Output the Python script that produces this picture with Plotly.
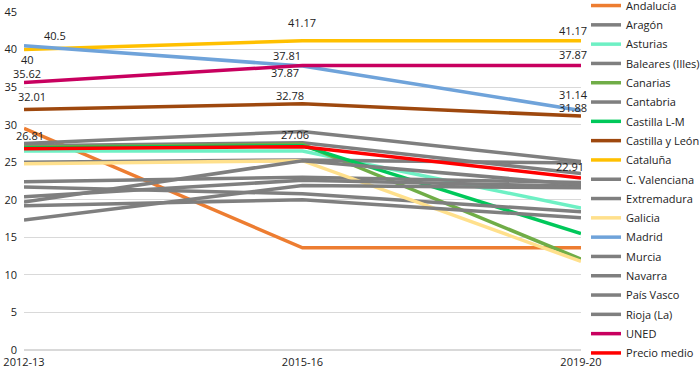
import plotly.graph_objects as go

periods = ["2012-13", "2015-16", "2019-20"]

series_names = ["Andalucía", "Aragón", "Asturias", "Baleares (Illes)", "Canarias",
                "Cantabria", "Castilla L-M", "Castilla y León", "Cataluña",
                "C. Valenciana", "Extremadura", "Galicia", "Madrid", "Murcia",
                "Navarra", "País Vasco", "Rioja (La)", "UNED", "Precio medio"]

andalucia = [29.5, 13.6, 13.6]
aragon = [27.5, 29.1, 25.1]
asturias = [26.5, 26.5, 18.9]
baleares = [27.2, 27.6, 23.5]
canarias = [27.0, 27.4, 12.1]
cantabria = [25.0, 25.3, 24.9]
castilla_lm = [26.9, 27.2, 15.5]
castilla_leon = [32.01, 32.78, 31.14]
cataluna = [40.0, 41.17, 41.17]
c_valenciana = [22.4, 23.0, 22.3]
extremadura = [21.7, 20.8, 18.4]
galicia = [24.8, 25.2, 11.8]
madrid = [40.5, 37.81, 31.88]
murcia = [20.4, 22.6, 21.8]
navarra = [19.7, 25.2, 22.0]
pais_vasco = [19.2, 20.0, 17.6]
rioja = [17.3, 21.9, 21.6]
uned = [35.62, 37.87, 37.87]
precio_medio = [26.81, 27.06, 22.91]

values = [andalucia, aragon, asturias, baleares, canarias, cantabria, castilla_lm,
          castilla_leon, cataluna, c_valenciana, extremadura, galicia, madrid, murcia,
          navarra, pais_vasco, rioja, uned, precio_medio]

GRAY = "#7f7f7f"
colors = ["#ED7D31", GRAY, "#6EF0C4", GRAY, "#70AD47", GRAY, "#00C85A",
          "#9E480E", "#FFC000", GRAY, GRAY, "#FFE08C", "#6FA3DA", GRAY,
          GRAY, GRAY, GRAY, "#C8005F", "#FF0000"]

# data labels: (series index, point index, xshift, yshift)
label_specs = [
    (12, 0, 31, 10), (8, 0, 3, -10), (17, 0, 3, 9), (7, 0, 8, 13), (18, 0, 6, 13),
    (8, 1, -1, 18), (12, 1, -16, 11), (17, 1, -18, -7), (7, 1, -13, 8), (18, 1, -8, 12),
    (8, 2, -8, 10), (17, 2, -8, 11), (7, 2, -8, 22), (12, 2, -8, 3), (18, 2, -11, 11),
]

FONT = "Open Sans"
fig = go.Figure()
for i, (name, vals, col) in enumerate(zip(series_names, values, colors)):
    fig.add_trace(go.Scatter(
        x=periods, y=vals, name=name, mode="lines",
        line=dict(color=col, width=3.5),
        legendgroup=f"g{i}",
    ))

for si, pi, xs, ys in label_specs:
    v = values[si][pi]
    txt = f"{v:g}"
    fig.add_annotation(x=periods[pi], y=v, text=txt, showarrow=False,
                       xshift=xs, yshift=ys,
                       font=dict(family=FONT, size=11, color="#222222"))

fig.update_layout(
    width=700, height=371,
    margin=dict(l=24, r=119, t=12, b=21, autoexpand=False),
    paper_bgcolor="white", plot_bgcolor="white",
    font=dict(family=FONT, size=11, color="#222222"),
    showlegend=True,
    legend=dict(x=1.009, xanchor="left", yref="paper", y=1.062, yanchor="top",
                maxheight=420, tracegroupgap=0.3,
                font=dict(family=FONT, size=11, color="#222222"),
                bgcolor="rgba(0,0,0,0)", borderwidth=0),
    xaxis=dict(type="category", range=[0, 2], showgrid=False, showline=False,
               ticks="", tickfont=dict(size=11), ticklabelstandoff=4),
    yaxis=dict(range=[0, 45], dtick=5, showgrid=True, gridcolor="#D9D9D9",
               gridwidth=1, zeroline=True, zerolinecolor="#D9D9D9", showline=False,
               ticks="", tickfont=dict(size=11), ticklabelstandoff=6),
)

fig.write_html("out.html", config={"displayModeBar": False},
               post_script="document.body.style.margin='0px';")
